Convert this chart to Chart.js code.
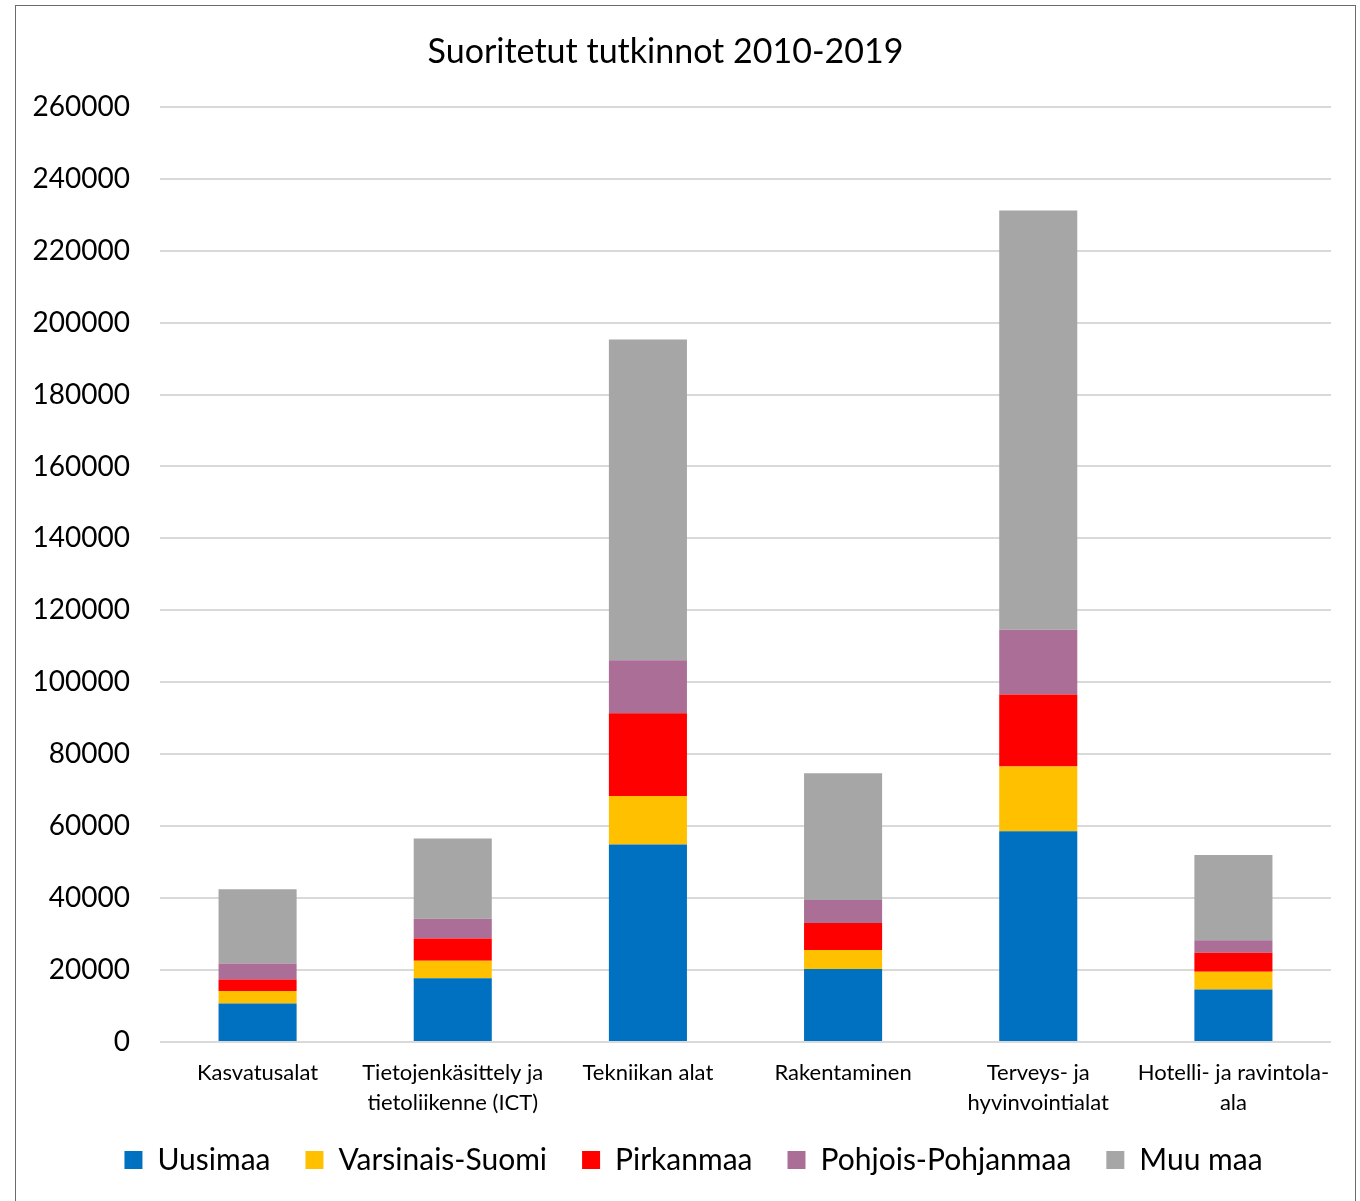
<!DOCTYPE html>
<html>
<head>
<meta charset="utf-8">
<script src="https://cdn.jsdelivr.net/npm/chart.js@4/dist/chart.umd.min.js"></script>
<style>
  body { margin: 0; background: #fff; }
  #wrap { position: relative; width: 1360px; height: 1201px; overflow: hidden; }
  #frame { position: absolute; left: 15px; top: 5px; width: 1341px; height: 1220px; border: 1px solid #6b6b6b; box-sizing: border-box; pointer-events: none; }
  canvas { position: absolute; left: 0; top: 0; }
</style>
</head>
<body>
<div id="wrap">
  <canvas id="c" width="1360" height="1201"></canvas>
  <div id="frame"></div>
</div>
<script>
var categories = ['Kasvatusalat', ['Tietojenkäsittely ja', 'tietoliikenne (ICT)'], 'Tekniikan alat', 'Rakentaminen', ['Terveys- ja', 'hyvinvointialat'], ['Hotelli- ja ravintola-', 'ala']];

var uusimaa = [10700, 17700, 54900, 20300, 58600, 14600];
var varsinaisSuomi = [3500, 4900, 13500, 5300, 18000, 4900];
var pirkanmaa = [3200, 6200, 23000, 7500, 20000, 5300];
var pohjoisPohjanmaa = [4400, 5500, 14700, 6400, 18000, 3500];
var muuMaa = [20700, 22300, 89200, 35200, 116600, 23700];

var font = 'Lato, "Open Sans", sans-serif';

var series = [
  { label: 'Uusimaa', data: uusimaa, color: '#0070C0' },
  { label: 'Varsinais-Suomi', data: varsinaisSuomi, color: '#FFC000' },
  { label: 'Pirkanmaa', data: pirkanmaa, color: '#FF0000' },
  { label: 'Pohjois-Pohjanmaa', data: pohjoisPohjanmaa, color: '#AB6F97' },
  { label: 'Muu maa', data: muuMaa, color: '#A6A6A6' }
];

// nudge the legend up/right so it sits like the original
var moveLegend = {
  id: 'moveLegend',
  afterLayout: function (chart) {
    var lg = chart.legend;
    lg.top -= 12; lg.bottom -= 12;
    lg.left += 28; lg.right += 28;
  }
};

var ctx = document.getElementById('c').getContext('2d');
var chart = new Chart(ctx, {
  type: 'bar',
  data: {
    labels: categories,
    datasets: series.map(function (s) {
      return {
        label: s.label,
        data: s.data,
        backgroundColor: s.color,
        borderWidth: 0,
        barPercentage: 0.4,
        categoryPercentage: 1
      };
    })
  },
  plugins: [moveLegend],
  options: {
    responsive: false,
    animation: false,
    layout: { padding: { left: 0, right: 29, top: 0, bottom: 4 } },
    plugins: {
      title: {
        display: true,
        text: 'Suoritetut tutkinnot 2010-2019',
        color: '#000',
        font: { family: font, size: 34, weight: 'normal' },
        padding: { top: 32, bottom: 34 }
      },
      legend: {
        position: 'bottom',
        labels: {
          color: '#000',
          font: { family: font, size: 30 },
          boxWidth: 18,
          boxHeight: 18,
          padding: 35
        }
      },
      tooltip: { enabled: false }
    },
    scales: {
      x: {
        stacked: true,
        afterFit: function (scale) { scale.height = 80; },
        grid: { display: false },
        border: { display: false },
        ticks: {
          color: '#000',
          font: { family: font, size: 22, lineHeight: 1.36 },
          padding: 8,
          maxRotation: 0,
          autoSkip: false
        }
      },
      y: {
        stacked: true,
        min: 0,
        max: 260000,
        afterFit: function (scale) { scale.width = 160; },
        grid: { color: '#d9d9d9', lineWidth: 2, drawTicks: false },
        border: { display: false },
        ticks: {
          stepSize: 20000,
          color: '#000',
          font: { family: font, size: 28 },
          padding: 30,
          callback: function (v) { return String(v); }
        }
      }
    }
  }
});
</script>
</body>
</html>
